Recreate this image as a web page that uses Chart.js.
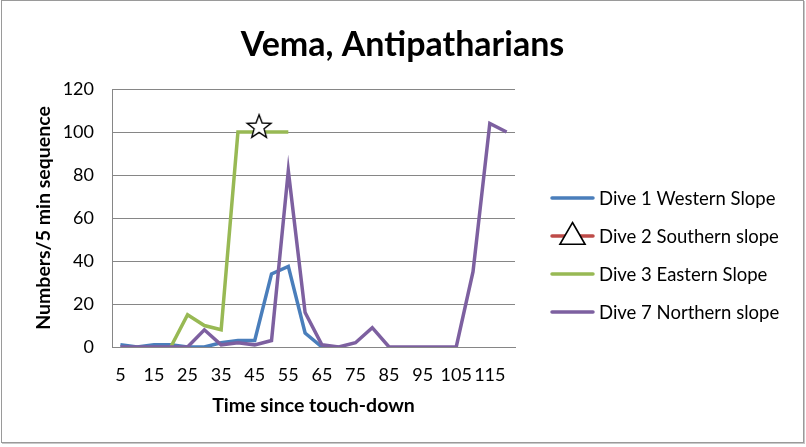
<!DOCTYPE html>
<html>
<head>
<meta charset="utf-8">
<title>Vema, Antipatharians</title>
<script src="https://cdn.jsdelivr.net/npm/chart.js@4/dist/chart.umd.min.js"></script>
<style>
  html, body { margin: 0; padding: 0; background: #fff; }
  #frame {
    position: absolute; left: 1px; top: 0;
    width: 801px; height: 441px;
    border: 1px solid #9a9a9a;
    box-shadow: 1px 1px 0 #c8c8c8;
  }
  canvas { display: block; }
</style>
</head>
<body>
<div id="frame"><canvas id="vemaChart" width="801" height="441"></canvas></div>
<script>
// Time since touch-down (min), one sample every 5 min
const times = [5, 10, 15, 20, 25, 30, 35, 40, 45, 50, 55, 60, 65, 70, 75, 80, 85, 90, 95, 100, 105, 110, 115, 120];
const xTickLabels = [5, 15, 25, 35, 45, 55, 65, 75, 85, 95, 105, 115];
const yTickLabels = [0, 20, 40, 60, 80, 100, 120];

// Numbers per 5 min sequence
const dive1 = [1, 0, 1, 1, 0, 0, 2, 3, 3, 34, 37.5, 6.5, 0, 0, null, null, null, null, null, null, null, null, null, null];
const dive2 = [];
const dive3 = [null, null, null, 0, 15, 10, 8, 100, 100, 100, 100, null, null, null, null, null, null, null, null, null, null, null, null, null];
const dive7 = [0, 0, 0, 0, 0, 8, 1, 2, 1, 3, 82, 16, 1, 0, 2, 9, 0, 0, 0, 0, 0, 35, 104, 100];

// star annotation
const starX = [46.3];
const starY = [102.8];

const FONT = 'Lato, "Liberation Sans", sans-serif';

const toPoints = arr => times.map((t, i) => ({ x: t, y: arr[i] === undefined ? null : arr[i] }));

// white five-point star with black outline, used as a point style
function makeStar(size) {
  const c = document.createElement('canvas');
  c.width = size; c.height = size;
  const g = c.getContext('2d');
  const cx = size / 2, cy = size / 2 + 1.2, R = size / 2 - 1.5, r = R * 0.42;
  g.beginPath();
  for (let k = 0; k < 10; k++) {
    const rad = k % 2 === 0 ? R : r;
    const a = -Math.PI / 2 + k * Math.PI / 5;
    g.lineTo(cx + rad * Math.cos(a), cy + rad * Math.sin(a));
  }
  g.closePath();
  g.fillStyle = '#fff';
  g.fill();
  g.lineWidth = 1.4;
  g.strokeStyle = '#000';
  g.stroke();
  return c;
}

// legend drawn on the right, Excel style (line sample + optional marker)
const sideLegend = {
  id: 'sideLegend',
  afterDraw(chart) {
    const ctx = chart.ctx;
    const x0 = 550, x1 = 591, tx = 597;
    const rows = [197, 235, 273, 311];
    ctx.save();
    ctx.font = '18.5px ' + FONT;
    ctx.textBaseline = 'middle';
    ctx.fillStyle = '#000';
    chart.data.datasets.slice(0, 4).forEach((ds, i) => {
      const y = rows[i];
      ctx.strokeStyle = ds.borderColor;
      ctx.lineWidth = 3.5;
      ctx.lineCap = 'round';
      ctx.beginPath();
      ctx.moveTo(x0, y);
      ctx.lineTo(x1, y);
      ctx.stroke();
      if (ds.legendMarker) {
        ctx.lineWidth = 1.6;
        ctx.strokeStyle = '#000';
        ctx.fillStyle = '#fff';
        Chart.helpers.drawPoint(ctx, { pointStyle: 'triangle', radius: 14.5, borderWidth: 1.6 }, (x0 + x1) / 2, y + 1);
        ctx.fillStyle = '#000';
      }
      ctx.fillText(ds.label, tx, y + 1);
    });
    ctx.restore();
  }
};

new Chart(document.getElementById('vemaChart'), {
  type: 'line',
  data: {
    datasets: [
      { label: 'Dive 1 Western Slope', data: toPoints(dive1), borderColor: '#4A7EBB', order: 3 },
      { label: 'Dive 2 Southern slope', data: toPoints(dive2), borderColor: '#BE4B48', order: 2, legendMarker: true },
      { label: 'Dive 3 Eastern Slope', data: toPoints(dive3), borderColor: '#98B954', order: 1 },
      { label: 'Dive 7 Northern slope', data: toPoints(dive7), borderColor: '#7D60A0', order: 0 },
      {
        label: 'star',
        data: starX.map((x, i) => ({ x, y: starY[i] })),
        showLine: false,
        pointStyle: makeStar(28),
        pointRadius: 14,
        order: -1
      }
    ]
  },
  options: {
    responsive: false,
    animation: false,
    layout: { padding: 0 },
    elements: {
      line: { borderWidth: 3.5, tension: 0, spanGaps: false },
      point: { radius: 0, hoverRadius: 0 }
    },
    plugins: {
      legend: { display: false },
      tooltip: { enabled: false },
      title: {
        display: true,
        text: 'Vema, Antipatharians',
        color: '#000',
        font: { family: FONT, size: 34, weight: 'bold', lineHeight: 1.2 },
        padding: { top: 23.6, bottom: 23.6 }
      }
    },
    scales: {
      x: {
        type: 'linear',
        min: 2.5,
        max: 122.5,
        afterBuildTicks: axis => { axis.ticks = xTickLabels.map(v => ({ value: v })); },
        afterFit: axis => { axis.height = 95; },
        grid: { display: false, drawTicks: false },
        border: { display: true, color: '#868686', width: 1 },
        ticks: {
          autoSkip: false,
          maxRotation: 0,
          padding: 17,
          color: '#000',
          font: { family: FONT, size: 18 }
        },
        title: {
          display: true,
          text: 'Time since touch-down',
          color: '#000',
          font: { family: FONT, size: 19.5, weight: 'bold', lineHeight: 1.2 },
          padding: { top: 0, bottom: 24.3 }
        }
      },
      y: {
        min: 0,
        max: 120,
        afterBuildTicks: axis => { axis.ticks = yTickLabels.map(v => ({ value: v })); },
        afterFit: axis => { axis.width = 110; },
        grid: { color: '#868686', lineWidth: 1, drawTicks: false },
        border: { display: true, color: '#868686', width: 1 },
        ticks: {
          padding: 18,
          color: '#000',
          font: { family: FONT, size: 18 }
        },
        title: {
          display: true,
          text: 'Numbers/5 min sequence',
          color: '#000',
          font: { family: FONT, size: 19.5, weight: 'bold', lineHeight: 1.2 },
          padding: { top: 29.8, bottom: 0 }
        }
      },
      // empty right-hand axis that reserves room for the legend
      legendSpace: {
        type: 'linear',
        position: 'right',
        display: true,
        afterFit: axis => { axis.width = 288; },
        grid: { display: false, drawTicks: false },
        border: { display: false },
        ticks: { display: false }
      }
    }
  },
  plugins: [sideLegend]
});
</script>
</body>
</html>
